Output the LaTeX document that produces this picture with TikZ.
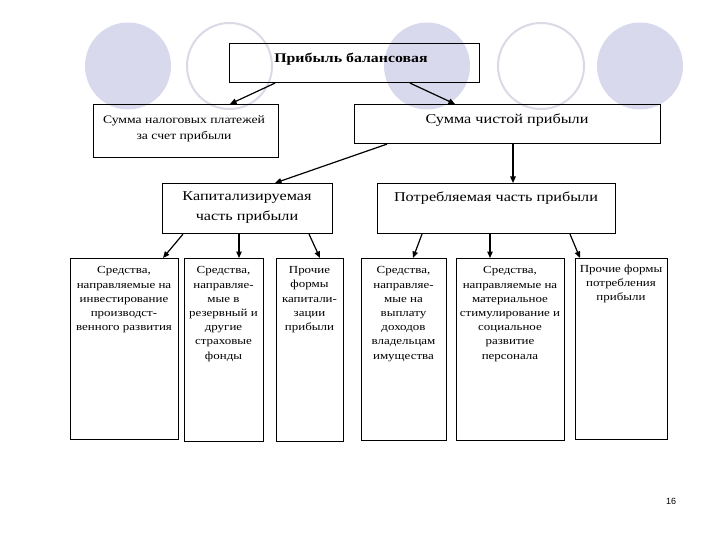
\documentclass[tikz,border=0pt]{standalone}
\usepackage{fontspec}
\setmainfont{Liberation Serif}
\newfontfamily\wideserif[FakeStretch=1.2]{Liberation Serif}
\newfontfamily\pagefont{Liberation Sans}
\usetikzlibrary{arrows.meta}
\definecolor{lav}{RGB}{217,217,237}
\definecolor{lavline}{RGB}{218,218,230}
\tikzset{
  boxnode/.style={draw, line width=1.1pt, inner sep=0pt, anchor=north west},
  fillcirc/.style={fill=lav, draw=none},
  ringcirc/.style={draw=lavline, line width=2pt},
  arr/.style={line width=1.2pt, -{Triangle[length=6.5pt,width=5.5pt]}},
  smalltxt/.style={font=\wideserif\fontsize{10.8}{14.2}\selectfont, align=center, anchor=north, inner sep=0pt},
  midtxt/.style={font=\wideserif\fontsize{11.4}{16.5}\selectfont, align=center, inner sep=0pt},
  bigtxt/.style={font=\wideserif\fontsize{13.5}{20}\selectfont, align=center, inner sep=0pt},
  titletxt/.style={font=\wideserif\bfseries\fontsize{13.2}{15}\selectfont, inner sep=0pt},
}
\begin{document}
\begin{tikzpicture}[x=1pt,y=-1pt]
\useasboundingbox (0,0) rectangle (720,540);
% background circles
\fill[fillcirc] (128,66) ellipse [x radius=43, y radius=43.5];
\draw[ringcirc] (229.5,66) ellipse [x radius=42.5, y radius=43];
\fill[fillcirc] (427,66) ellipse [x radius=43, y radius=43.5];
\draw[ringcirc] (541,66) ellipse [x radius=43, y radius=43];
\fill[fillcirc] (640,66) ellipse [x radius=43, y radius=43.5];
% boxes
\node[boxnode, minimum width=250pt, minimum height=39pt] (top) at (229,43) {};
\node[boxnode, minimum width=185pt, minimum height=53pt] (tax) at (93,104) {};
\node[boxnode, minimum width=306pt, minimum height=39pt] (net) at (354,104) {};
\node[boxnode, minimum width=170pt, minimum height=50pt] (cap) at (162,183) {};
\node[boxnode, minimum width=238pt, minimum height=50pt] (cons) at (377,183) {};
\node[boxnode, minimum width=108pt, minimum height=181pt] (b1) at (70,258) {};
\node[boxnode, minimum width=79pt, minimum height=183pt] (b2) at (184,258) {};
\node[boxnode, minimum width=67pt, minimum height=183pt] (b3) at (276,258) {};
\node[boxnode, minimum width=85pt, minimum height=182pt] (b4) at (361,258) {};
\node[boxnode, minimum width=108pt, minimum height=182pt] (b5) at (456,258) {};
\node[boxnode, minimum width=92pt, minimum height=181pt] (b6) at (575,258) {};
% texts
\node[titletxt] (ttop) at (351,59) {Прибыль балансовая};
\node[midtxt] (ttax) at (184,129) {Сумма налоговых платежей\\за счет прибыли};
\node[bigtxt] (tnet) at (507,120) {Сумма чистой прибыли};
\node[bigtxt] (tcap) at (247,208) {Капитализируемая\\часть прибыли};
\node[bigtxt] (tcons) at (496,198) {Потребляемая часть прибыли};
\node[smalltxt] (t1) at (124,266.5) {Средства,\\направляемые на\\инвестирование\\производст-\\венного развития};
\node[smalltxt] (t2) at (223.5,266.5) {Средства,\\направляе-\\мые в\\резервный и\\другие\\страховые\\фонды};
\node[smalltxt] (t3) at (309.5,266.5) {Прочие\\формы\\капитали-\\зации\\прибыли};
\node[smalltxt] (t4) at (403.5,266.5) {Средства,\\направляе-\\мые на\\выплату\\доходов\\владельцам\\имущества};
\node[smalltxt] (t5) at (510,266.5) {Средства,\\направляемые на\\материальное\\стимулирование и\\социальное\\развитие\\персонала};
\node[smalltxt] (t6) at (621,264.5) {Прочие формы\\потребления\\прибыли};
\node[font=\pagefont\fontsize{9}{10}\selectfont, inner sep=0pt] (pg) at (671,501) {16};
% arrows
\draw[arr] ([xshift=46pt]top.south west) -- ([xshift=137pt]tax.north west);
\draw[arr] ([xshift=181pt]top.south west) -- ([xshift=101pt]net.north west);
\draw[arr] ([xshift=33pt]net.south west) -- ([xshift=113pt]cap.north west);
\draw[arr] ([xshift=159pt]net.south west) -- ([xshift=136pt]cons.north west);
\draw[arr] ([xshift=21pt]cap.south west) -- ([xshift=93pt]b1.north west);
\draw[arr] ([xshift=77pt]cap.south west) -- ([xshift=55pt]b2.north west);
\draw[arr] ([xshift=147pt]cap.south west) -- ([xshift=44pt]b3.north west);
\draw[arr] ([xshift=45pt]cons.south west) -- ([xshift=52pt]b4.north west);
\draw[arr] ([xshift=113pt]cons.south west) -- ([xshift=34pt]b5.north west);
\draw[arr] ([xshift=193pt]cons.south west) -- ([xshift=5pt]b6.north west);
\end{tikzpicture}
\end{document}
